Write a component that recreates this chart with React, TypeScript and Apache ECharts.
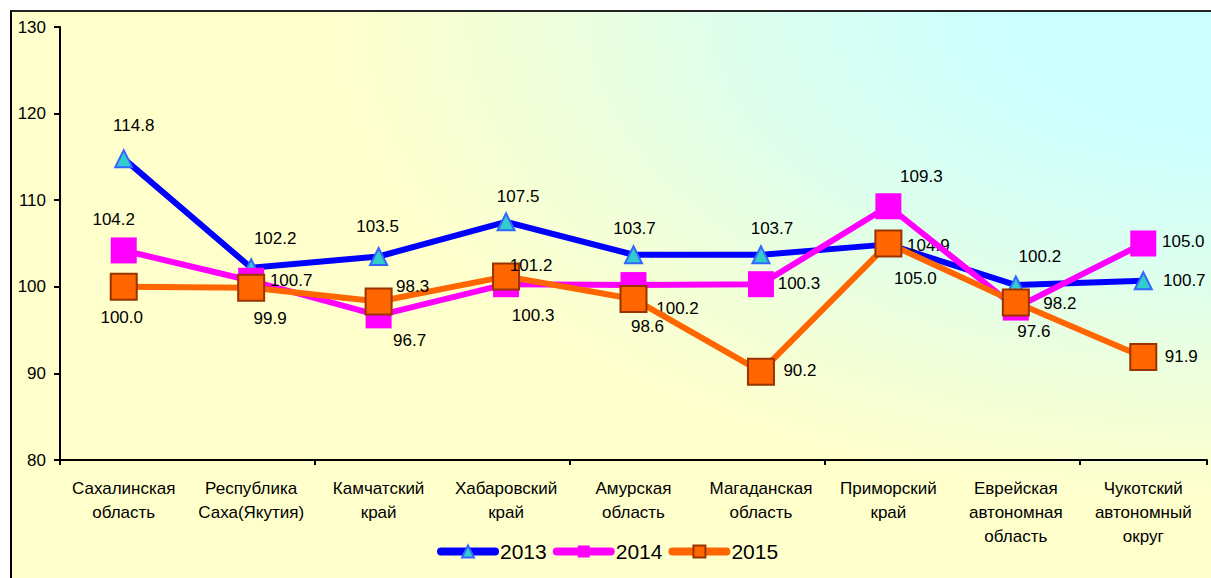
import React, { useEffect, useRef } from "react";
import * as echarts from "echarts";

const categories = [
  "Сахалинская\nобласть",
  "Республика\nСаха(Якутия)",
  "Камчатский\nкрай",
  "Хабаровский\nкрай",
  "Амурская\nобласть",
  "Магаданская\nобласть",
  "Приморский\nкрай",
  "Еврейская\nавтономная\nобласть",
  "Чукотский\nавтономный\nокруг",
];

const values2013 = [114.8, 102.2, 103.5, 107.5, 103.7, 103.7, 104.9, 100.2, 100.7];
const values2014 = [104.2, 100.7, 96.7, 100.3, 100.2, 100.3, 109.3, 97.6, 105.0];
const values2015 = [100.0, 99.9, 98.3, 101.2, 98.6, 90.2, 105.0, 98.2, 91.9];

const yTicks = { min: 80, max: 130, interval: 10 };

// label placement (style): offset of label centre from marker centre
const offsets2013 = [[10, -33], [24, -29], [-1, -30], [12, -25], [1, -26], [11, -26], [40, 1], [24, -29], [41, 0]];
const offsets2014 = [[-10, -31], [40, 0], [31, 25], [27, 31], [44, 23], [38, -1], [33, -30], [18, 24], [40, -2]];
const offsets2015 = [[-2, 31], [19, 31], [34, -15], [25, -11], [14, 28], [39, -1], [27, 35], [44, 1], [38, 0]];

const FONT = "'Liberation Sans', Arial, sans-serif";

function buildData(vals: number[], offs: number[][]) {
  return vals.map((v, i) => ({ value: v, label: { offset: offs[i] } }));
}

export default function App() {
  const ref = useRef<HTMLDivElement>(null);
  useEffect(() => {
    if (!ref.current) return;
    const chart = echarts.init(ref.current, null, { renderer: "svg" });
    const labelBase = {
      show: true,
      position: "inside",
      color: "#000",
      fontSize: 17,
      fontFamily: FONT,
      formatter: (p: any) => Number(p.value).toFixed(1),
    };
    chart.setOption({
      animation: false,
      backgroundColor: "transparent",
      textStyle: { fontFamily: FONT },
      grid: { left: 48, top: 15, right: 4, bottom: 118, containLabel: false },
      legend: {
        data: ["2013", "2014", "2015"],
        left: 420,
        top: 524,
        padding: 5,
        itemWidth: 54,
        itemHeight: 15,
        itemGap: 6,
        lineStyle: { width: 8, cap: "round" },
        textStyle: { fontSize: 21, color: "#000", fontFamily: FONT },
      },
      xAxis: {
        type: "category",
        data: categories,
        boundaryGap: true,
        axisLine: { show: true, lineStyle: { color: "#000", width: 2 } },
        axisTick: { show: true, interval: 1, length: 5, lineStyle: { color: "#000", width: 2 } },
        axisLabel: {
          interval: 0,
          fontSize: 17,
          lineHeight: 24,
          color: "#000",
          fontFamily: FONT,
          margin: 16,
        },
        splitLine: { show: false },
      },
      yAxis: {
        type: "value",
        min: yTicks.min,
        max: yTicks.max,
        interval: yTicks.interval,
        axisLine: { show: true, lineStyle: { color: "#000", width: 2 } },
        axisTick: { show: true, length: 6, lineStyle: { color: "#000", width: 2 } },
        axisLabel: { fontSize: 17, color: "#000", fontFamily: FONT, margin: 14 },
        splitLine: { show: false },
      },
      series: [
        {
          name: "2013",
          type: "line",
          data: buildData(values2013, offsets2013),
          symbol: "triangle",
          symbolSize: 17,
          lineStyle: { color: "#0000FF", width: 6 },
          itemStyle: { color: "#33CCCC", borderColor: "#3366FF", borderWidth: 2 },
          label: labelBase,
          z: 2,
        },
        {
          name: "2014",
          type: "line",
          data: buildData(values2014, offsets2014),
          symbol: "rect",
          symbolSize: 26,
          lineStyle: { color: "#FF00FF", width: 6 },
          itemStyle: { color: "#FF00FF", borderColor: "#FF00FF", borderWidth: 0 },
          label: labelBase,
          z: 3,
        },
        {
          name: "2015",
          type: "line",
          data: buildData(values2015, offsets2015),
          symbol: "rect",
          symbolSize: 26,
          lineStyle: { color: "#FF6600", width: 6 },
          itemStyle: { color: "#FF6600", borderColor: "#993300", borderWidth: 2 },
          label: labelBase,
          z: 4,
        },
      ],
    });
    return () => chart.dispose();
  }, []);

  return (
    <div style={{ position: "fixed", left: 0, top: 0, width: 1211, height: 578, overflow: "hidden", background: "#fff" }}>
      <div
        style={{
          position: "absolute",
          left: 10,
          top: 10,
          width: 1211,
          height: 578,
          borderLeft: "2px solid #000",
          borderTop: "2px solid #222",
          background:
            "radial-gradient(ellipse 950px 520px at 100% 0%, #CCFFFF 0%, #CCFFFF 22%, #DDFFEE 50%, #F2FFD8 75%, #FFFFCC 95%)",
        }}
      >
        <div ref={ref} style={{ width: 1199, height: 566 }} />
      </div>
    </div>
  );
}
